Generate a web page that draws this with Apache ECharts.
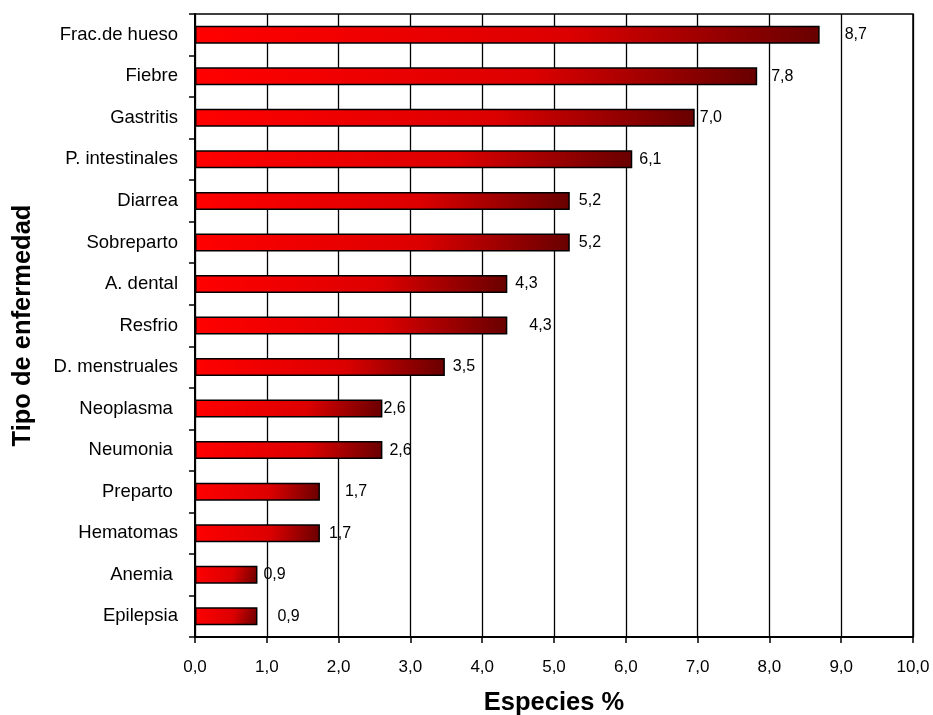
<!DOCTYPE html>
<html>
<head>
<meta charset="utf-8">
<script src="https://cdn.jsdelivr.net/npm/echarts@6/dist/echarts.min.js"></script>
<style>
html,body{margin:0;padding:0;background:#fff;}
#chart{width:933px;height:715px;}
</style>
</head>
<body>
<div id="chart"></div>
<script>
// Data
var categories = ['Frac.de hueso','Fiebre','Gastritis','P. intestinales','Diarrea','Sobreparto','A. dental','Resfrio','D. menstruales','Neoplasma ','Neumonia ','Preparto ','Hematomas','Anemia ','Epilepsia'];
var values = [8.70, 7.83, 6.96, 6.09, 5.22, 5.22, 4.35, 4.35, 3.48, 2.61, 2.61, 1.74, 1.74, 0.87, 0.87];
var valueLabels = ['8,7','7,8','7,0','6,1','5,2','5,2','4,3','4,3','3,5','2,6','2,6','1,7','1,7','0,9','0,9'];
var xTickLabels = ['0,0','1,0','2,0','3,0','4,0','5,0','6,0','7,0','8,0','9,0','10,0'];
// Label placement (style, not data)
var labelDistance = [25, 14, 5, 7, 9, 9, 8, 22, 8, 1, 7, 25, 9, 6, 20];

var FONT = 'Liberation Sans, Arial, sans-serif';
var barColor = new echarts.graphic.LinearGradient(0, 0, 1, 1, [
  {offset: 0, color: '#ff0000'},
  {offset: 0.6, color: '#dc0000'},
  {offset: 1, color: '#680000'}
]);

var seriesData = values.map(function (v, i) {
  return {
    value: v,
    label: {distance: labelDistance[i], formatter: valueLabels[i]}
  };
});

var chart = echarts.init(document.getElementById('chart'), null, {renderer: 'canvas'});
chart.setOption({
  animation: false,
  backgroundColor: '#fff',
  grid: {
    left: 195, right: 20, top: 14, bottom: 78,
    outerBoundsMode: 'none', containLabel: false,
    show: true, borderColor: '#000', borderWidth: 1.5, backgroundColor: '#fff'
  },
  xAxis: {
    type: 'value', min: 0, max: 10, interval: 1,
    name: 'Especies %', nameLocation: 'middle', nameGap: 53,
    nameTextStyle: {fontFamily: FONT, fontSize: 25.5, fontWeight: 'bold', color: '#000'},
    axisLine: {show: true, lineStyle: {color: '#000', width: 2}},
    axisTick: {show: true, inside: false, length: 6, lineStyle: {color: '#000', width: 1.5}},
    splitLine: {show: true, lineStyle: {color: '#000', width: 1.3}},
    axisLabel: {
      margin: 22, fontFamily: FONT, fontSize: 17, color: '#000',
      formatter: function (v) { return xTickLabels[Math.round(v)]; }
    }
  },
  yAxis: {
    type: 'category', data: categories, inverse: true,
    name: 'Tipo de enfermedad', nameLocation: 'middle', nameGap: 159, nameRotate: 90,
    nameTextStyle: {fontFamily: FONT, fontSize: 25.5, fontWeight: 'bold', color: '#000'},
    axisLine: {show: true, lineStyle: {color: '#000', width: 2}},
    axisTick: {show: true, inside: false, length: 6, alignWithLabel: false, lineStyle: {color: '#000', width: 1.5}},
    splitLine: {show: false},
    axisLabel: {margin: 17, fontFamily: FONT, fontSize: 18.5, color: '#000'}
  },
  series: [{
    type: 'bar',
    data: seriesData,
    barWidth: 18,
    itemStyle: {color: barColor, borderColor: '#000', borderWidth: 1.5},
    label: {
      show: true, position: 'right',
      fontFamily: FONT, fontSize: 16, color: '#000'
    }
  }]
});
</script>
</body>
</html>
